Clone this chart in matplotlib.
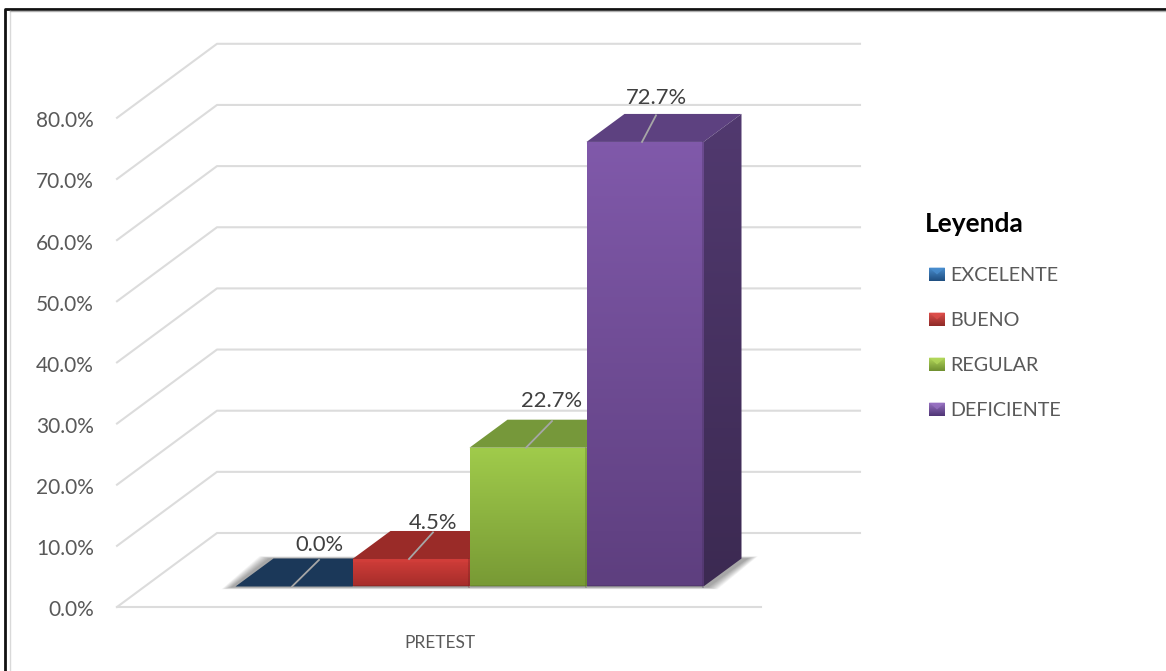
import numpy as np
import matplotlib
matplotlib.use('Agg')
import matplotlib.pyplot as plt
from matplotlib.patches import Polygon
from matplotlib.colors import LinearSegmentedColormap

plt.rcParams['font.family'] = ['Lato', 'DejaVu Sans']

# data
categories = ['EXCELENTE', 'BUENO', 'REGULAR', 'DEFICIENTE']
values = [0.0, 4.5, 22.7, 72.7]
value_labels = ['0.0%', '4.5%', '22.7%', '72.7%']
grid_values = [0, 10, 20, 30, 40, 50, 60, 70, 80]
tick_labels = ['0.0%', '10.0%', '20.0%', '30.0%', '40.0%', '50.0%', '60.0%', '70.0%', '80.0%']
group_label = 'PRETEST'

# colours: front top, front bottom, top face, side top, side bottom
front_top = ['#2f6aa8', '#d23e3a', '#a0cb4b', '#8059aa']
front_bot = ['#1c3a5e', '#a62d2a', '#789a35', '#5e3f7f']
top_col = ['#1b3859', '#9a2b28', '#76983a', '#5d4180']
side_top = ['#1b3859', '#7d2321', '#5f7a2a', '#51396f']
side_bot = ['#162f4c', '#6b1d1b', '#4e6622', '#3c2a52']
legend_top = ['#4a8fd0', '#e0504c', '#b4d95c', '#9a74c4']
legend_bot = ['#1f4e80', '#8e2a28', '#6f8f30', '#4f3575']

W, H = 1166, 671
PX_PCT = 6.115      # pixels per percent
BASE_Y = 586.5      # pixel row of value 0 on bar front
BAR_X0 = 235.5
BAR_W = 117.0
DX, DY = 38 / BAR_W, 28 / PX_PCT   # bar depth in data units

fig = plt.figure(figsize=(W / 100, H / 100), dpi=100)
ax = fig.add_axes([0, 0, 1, 1])
# x is in bar widths, y is in percent
ax.set_xlim(-BAR_X0 / BAR_W, (W - BAR_X0) / BAR_W)
ax.set_ylim((BASE_Y - H) / PX_PCT, BASE_Y / PX_PCT)
ax.axis('off')


def xp(px):
    return (px - BAR_X0) / BAR_W


def yp(py):
    return (BASE_Y - py) / PX_PCT


# outer frame, only top and left show in the picture
ax.plot([xp(4.5), xp(4.5), xp(W)], [yp(H), yp(8.5), yp(8.5)], color='#111111', lw=2, zorder=1)
ax.plot([xp(9.5), xp(9.5)], [yp(H), yp(11)], color='#d9d9d9', lw=1, zorder=1)
ax.plot([xp(9.5), xp(W)], [yp(10.5), yp(10.5)], color='#b0b0b0', lw=1, zorder=1)

# grid on side wall and back wall
GRID_C = '#dcdcdc'
for v, t in zip(grid_values, tick_labels):
    y_front = v + yp(607)
    y_back = v + yp(533)
    ax.plot([xp(117), xp(217), xp(860)], [y_front, y_back, y_back], color=GRID_C, lw=1.5, zorder=2)
    ax.text(xp(94), y_front - 3.5 / PX_PCT, t, ha='right', va='center', fontsize=15, color='#595959', zorder=6)
ax.plot([xp(117), xp(761)], [yp(607), yp(607)], color=GRID_C, lw=1.5, zorder=2)
ax.text(xp(440), yp(643), group_label, ha='center', va='center', fontsize=12.5, color='#595959')


def gradient_poly(pts, c1, c2, z):
    cmap = LinearSegmentedColormap.from_list('g', [c2, c1])
    pts = np.array(pts)
    im = ax.imshow(np.linspace(1, 0, 64).reshape(-1, 1), cmap=cmap, aspect='auto',
                   extent=[pts[:, 0].min(), pts[:, 0].max(), pts[:, 1].min(), pts[:, 1].max()],
                   zorder=z, interpolation='bilinear')
    poly = Polygon(pts, closed=True, fc='none', ec='none', zorder=z)
    ax.add_patch(poly)
    im.set_clip_path(poly)


# soft shadow on the floor
n_bars = len(values)
for k in range(10):
    g = (10 - k) * 0.009
    shadow = [(-0.03 - g, -0.1 - g * 4), (DX - 0.03 - g, DY + g * 4),
              (n_bars + DX + 0.05 + g, DY + g * 4), (n_bars + 0.03 + g, -0.1 - g * 4)]
    ax.add_patch(Polygon(shadow, closed=True, fc='black', ec='none', alpha=0.04, zorder=3))

# bars
for i, v in enumerate(values):
    z = 4 + 0.1 * i
    # top face
    ax.add_patch(Polygon([(i, v), (i + DX, v + DY), (i + 1 + DX, v + DY), (i + 1, v)], closed=True,
                         fc=top_col[i], ec='none', zorder=z))
    if v <= 0:
        continue
    # side face
    gradient_poly([(i + 1, 0), (i + 1 + DX, DY), (i + 1 + DX, v + DY), (i + 1, v)], side_top[i], side_bot[i], z + 0.01)
    # front face
    gradient_poly([(i, 0), (i + 1, 0), (i + 1, v), (i, v)], front_top[i], front_bot[i], z + 0.02)
    # bevel edge
    ax.plot([i + 0.01, i + 0.99], [v - 0.25, v - 0.25], color=front_top[i], lw=1.5, alpha=0.8, zorder=z + 0.03)
    ax.plot([i + 0.01, i + 0.99], [0.15, 0.15], color=side_bot[i], lw=1.2, alpha=0.35, zorder=z + 0.03)
    ax.plot([i + 0.992, i + 0.992], [0, v], color=side_bot[i], lw=1.2, alpha=0.35, zorder=z + 0.03)

# data labels with leader lines
leader_x = [(292, 319), (409, 433), (526, 552), (642, 656)]
label_x = [319, 433, 552, 656]
label_dy = [-15, -9.5, -20, -17]
for i, v in enumerate(values):
    y0 = v
    y1 = v + DY * 0.95
    ax.plot([xp(leader_x[i][0]), xp(leader_x[i][1])], [y0, y1], color='#a6a6a6', lw=1.3, zorder=5)
    ax.text(xp(label_x[i]), y1 - label_dy[i] / PX_PCT, value_labels[i], ha='center', va='center',
            fontsize=15.8, color='#404040', zorder=6)

# legend
ax.text(xp(925), yp(224), 'Leyenda', ha='left', va='center', fontsize=19, fontweight='bold', color='black')
legend_y = [274.5, 319.5, 364.5, 409.5]
for c, py, c1, c2 in zip(categories, legend_y, legend_top, legend_bot):
    x0, x1 = xp(929), xp(945)
    y0, y1 = yp(py + 7), yp(py - 7)
    gradient_poly([(x0, y0), (x1, y0), (x1, y1), (x0, y1)], c1, c2, 5)
    ax.add_patch(Polygon([(x0, y1), (x1, y1), ((x0 + x1) / 2, (y0 + y1) / 2)], closed=True,
                         fc=c1, ec='none', alpha=0.7, zorder=5.1))
    ax.text(xp(950), yp(py + 1), c, ha='left', va='center', fontsize=14.2, color='#595959')

ax.set_xlim(-BAR_X0 / BAR_W, (W - BAR_X0) / BAR_W)
ax.set_ylim((BASE_Y - H) / PX_PCT, BASE_Y / PX_PCT)
fig.savefig('out.png', dpi=100)
